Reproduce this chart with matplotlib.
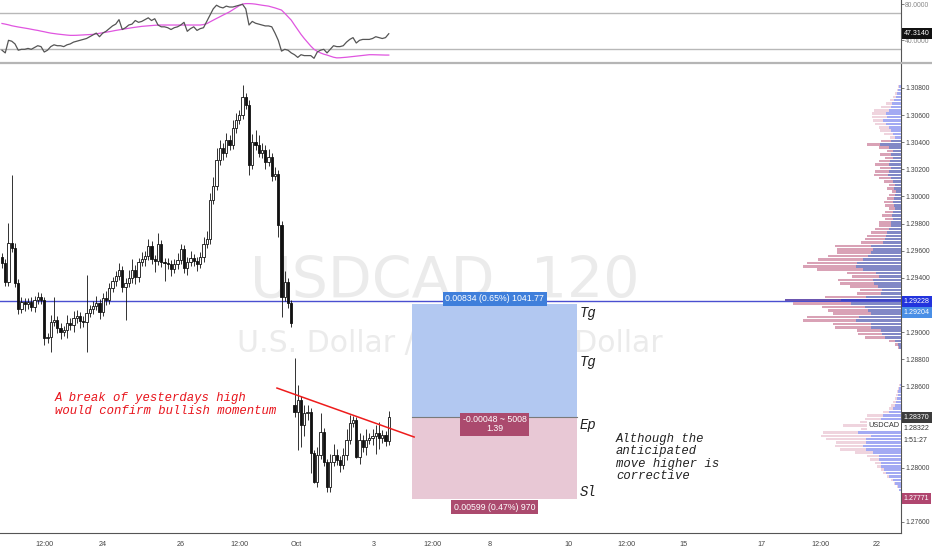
import numpy as np
import matplotlib.pyplot as plt
from matplotlib.lines import Line2D

plt.rcParams['font.family'] = ['Liberation Sans', 'DejaVu Sans']

# USDCAD 2h candles (close prices)
closes = [1.29509, 1.29369, 1.29657, 1.29620, 1.29362, 1.29170, 1.29222, 1.29207, 1.29222, 1.29185,
          1.29237, 1.29259, 1.29237, 1.28956, 1.28964, 1.29074, 1.29089, 1.29030, 1.29001, 1.29015,
          1.29067, 1.29052, 1.29104, 1.29119, 1.29082, 1.29074, 1.29141, 1.29170, 1.29192, 1.29214,
          1.29148, 1.29251, 1.29237, 1.29325, 1.29377, 1.29414, 1.29458, 1.29332, 1.29362, 1.29399,
          1.29458, 1.29406, 1.29517, 1.29539, 1.29561, 1.29635, 1.29539, 1.29524, 1.29650, 1.29517,
          1.29509, 1.29502, 1.29465, 1.29502, 1.29532, 1.29613, 1.29473, 1.29517, 1.29546, 1.29524,
          1.29502, 1.29554, 1.29650, 1.29686, 1.29974, 1.30077, 1.30269, 1.30358, 1.30321, 1.30417,
          1.30380, 1.30505, 1.30564, 1.30601, 1.30734, 1.30675, 1.30232, 1.30402, 1.30380, 1.30321,
          1.30343, 1.30254, 1.30291, 1.30151, 1.30166, 1.29790, 1.29259, 1.29369, 1.29214, 1.29067,
          1.28411, 1.28499, 1.28315, 1.28403, 1.28411, 1.28108, 1.27894, 1.28094, 1.28263, 1.28042,
          1.27858, 1.28042, 1.28094, 1.28057, 1.28020, 1.28094, 1.28204, 1.28330, 1.28352, 1.28079,
          1.28204, 1.28153, 1.28204, 1.28219, 1.28234, 1.28256, 1.28219, 1.28241, 1.28197, 1.28370]
first_open = 1.29554
gap_opens = {90: 1.28462}   # weekend gap

# wick sizes in pips
upper_wick = [3, 3, 15, 50, 4, 3, 4, 3, 3, 4, 3, 4, 3, 2, 3, 5, 17, 3, 4, 3,
              6, 4, 5, 4, 3, 4, 28, 3, 4, 5, 3, 4, 5, 4, 3, 4, 5, 3, 4, 6,
              8, 4, 3, 5, 4, 5, 4, 3, 8, 3, 3, 4, 3, 4, 5, 4, 3, 4, 5, 3,
              3, 4, 5, 6, 5, 7, 9, 6, 4, 5, 4, 6, 5, 4, 9, 3, 4, 6, 9, 7,
              5, 4, 6, 3, 5, 3, 3, 8, 3, 2, 35, 11, 3, 6, 5, 3, 2, 6, 14, 3,
              2, 6, 8, 4, 3, 5, 8, 6, 3, 2, 5, 4, 8, 4, 5, 6, 8, 4, 3, 5]
lower_wick = [4, 3, 3, 3, 3, 4, 3, 5, 4, 3, 4, 3, 3, 5, 4, 11, 3, 4, 5, 3,
              6, 4, 5, 4, 5, 4, 22, 3, 4, 3, 5, 3, 4, 3, 3, 4, 3, 4, 24, 3,
              4, 5, 4, 3, 5, 3, 4, 8, 3, 4, 13, 4, 5, 3, 4, 3, 4, 5, 3, 4,
              5, 3, 4, 3, 4, 3, 3, 4, 5, 3, 4, 3, 4, 3, 3, 3, 7, 3, 4, 3,
              4, 5, 3, 4, 3, 9, 15, 3, 4, 3, 4, 28, 16, 8, 5, 15, 1, 4, 3, 3,
              4, 4, 3, 4, 5, 3, 4, 3, 3, 1, 5, 4, 6, 3, 5, 13, 8, 4, 4, 3]

rsi = [29, 26, 40, 39, 36, 29, 30, 30, 31, 30, 32, 34, 33, 27, 29, 33, 35, 34, 34, 33,
       35, 36, 38, 39, 40, 41, 42, 44, 46, 48, 44, 48, 50, 53, 56, 58, 63, 52, 54, 57,
       58, 62, 60, 61, 63, 65, 62, 64, 57, 55, 55, 54, 52, 54, 55, 57, 60, 50, 53, 55,
       51, 53, 54, 61, 68, 75, 79, 77, 76, 78, 77, 77, 78, 79, 80, 75, 57, 61, 59, 58,
       57, 56, 56, 55, 48, 40, 28, 30, 29, 26, 24, 21, 24, 23, 23, 23, 20, 27, 29, 30,
       26, 30, 34, 33, 33, 34, 38, 41, 43, 37, 40, 41, 41, 41, 42, 44, 43, 42, 43, 47.314]
rsi_ma = [58.7, 58.0, 57.2, 56.2, 55.5, 54.8, 54.2, 53.6, 53.0, 52.3, 51.6, 51.0, 50.2, 49.5, 48.7,
          48.0, 47.5, 47.0, 46.6, 46.2, 45.8, 45.5, 45.5, 45.6, 45.8, 46.0, 46.2, 46.4, 46.6, 47.2,
          47.8, 48.4, 49.0, 49.6, 50.3, 51.0, 51.6, 52.2, 52.8, 53.4, 54.0, 54.5, 55.0, 55.5, 55.8,
          56.1, 56.4, 56.7, 56.9, 57.0, 57.0, 57.0, 57.0, 57.0, 57.0, 57.0, 57.0, 57.0, 57.0, 57.0,
          57.0, 57.0, 57.5, 58.5, 60.5, 62.4, 64.3, 66.1, 68.0, 69.8, 71.6, 73.9, 76.2, 78.5, 80.3,
          80.8, 80.8, 80.6, 80.2, 79.6, 79.0, 78.5, 78.0, 77.0, 76.0, 74.8, 73.6, 70.0, 66.2, 62.4,
          57.0, 51.8, 46.6, 42.0, 37.8, 33.6, 30.0, 27.8, 26.0, 24.6, 23.6, 22.4, 21.2, 20.5, 20.6,
          20.9, 21.2, 21.6, 22.0, 22.4, 22.8, 23.2, 23.6, 24.0, 24.0, 23.9, 23.8, 23.7, 23.6, 23.6]

# visible range volume profile (rows of 0.00025 from the top)
vp_top = 1.30810
vp_step = 0.00025
vp_total = [3, 4, 6, 8, 11, 15, 20, 27, 29, 29, 28, 26, 22, 21, 17, 11, 20, 34, 22, 14,
            21, 16, 22, 26, 21, 26, 27, 22, 17, 12, 14, 9, 12, 14, 17, 16, 12, 16, 19, 16,
            22, 22, 26, 30, 34, 36, 40, 66, 64, 64, 73, 83, 94, 98, 84, 54, 49, 63, 61, 51,
            41, 44, 76, 116, 108, 79, 73, 68, 94, 98, 68, 66, 44, 43, 36, 12, 6, 3, 0, 0,
            0, 0, 0, 0, 0, 0, 0, 0, 2, 3, 4, 5, 6, 8, 10, 12, 18, 34, 36, 41,
            58, 40, 78, 80, 75, 65, 66, 61, 46, 34, 31, 26, 24, 20, 18, 14, 10, 7, 4, 2]
vp_up = [2, 3, 4, 5, 7, 9, 10, 12, 15, 14, 18, 15, 12, 10, 8, 6, 10, 21, 12, 8,
         10, 8, 11, 12, 10, 12, 13, 10, 8, 6, 7, 5, 6, 7, 8, 7, 6, 8, 9, 8,
         10, 10, 12, 14, 15, 16, 18, 30, 28, 30, 33, 38, 44, 45, 38, 25, 22, 28, 27, 23,
         19, 20, 35, 60, 50, 36, 33, 30, 42, 45, 30, 30, 20, 19, 16, 6, 3, 2, 0, 0,
         0, 0, 0, 0, 0, 0, 0, 0, 1, 2, 3, 3, 4, 5, 6, 8, 12, 18, 20, 22,
         18, 30, 43, 30, 35, 35, 38, 35, 28, 22, 22, 20, 20, 17, 15, 12, 8, 6, 3, 2]
va_rows = (16, 77)
poc_row = 63

level_line = 1.29228
entry = 1.28370
target = 1.29204
stop = 1.27771
bid = 1.28322
trend_x = [84.6, 126.8]
trend_y = [1.28587, 1.28226]
box_x = [126.2, 177.0]

tick_pos = [13, 31, 55, 73, 90.5, 114.5, 132.5, 150.2, 174.2, 192, 209.8, 233.8, 251.7, 269.2]
tick_lbl = ['12:00', '24', '26', '12:00', 'Oct', '3', '12:00', '8', '10', '12:00', '15', '17', '12:00', '22']
price_ticks = [1.276, 1.280, 1.286, 1.288, 1.290, 1.294, 1.296, 1.298, 1.300, 1.302, 1.304, 1.306, 1.308]

n = len(closes)
idx = np.arange(n)
c = np.array(closes)
o = np.concatenate([[first_open], c[:-1]])
for k, v in gap_opens.items():
    o[k] = v
hi = np.maximum(o, c) + np.array(upper_wick) * 1e-4
lo = np.minimum(o, c) - np.array(lower_wick) * 1e-4

W, H = 932, 550
fig = plt.figure(figsize=(W / 100, H / 100), dpi=100)
ax = fig.add_axes([0, 17 / H, 901 / W, 469 / H])
ax_r = fig.add_axes([0, 1 - 62 / H, 901 / W, 62 / H])
xlim = (-0.615, 276.6)

# ---- main price pane
ax.set_xlim(xlim)
ax.set_ylim(1.27518, 1.30977)
ax.text(136.3, 1.29369, 'USDCAD, 120', fontsize=41, color='#ebebeb', ha='center', va='center',
        family='DejaVu Sans', zorder=0)
ax.text(137.8, 1.28919, 'U.S. Dollar / Canadian Dollar', fontsize=21.5, color='#ebebeb',
        ha='center', va='center', family='DejaVu Sans', zorder=0)

ax.axhline(level_line, color='#4a4fd0', lw=1, zorder=2)

# position tool
ax.fill_between(box_x, entry, target, color='#b2c8f1', lw=0, zorder=1)
ax.fill_between(box_x, stop, entry, color='#e8c8d5', lw=0, zorder=1)
ax.plot(box_x, [entry, entry], color='#7a7a7a', lw=0.8, zorder=2)
mid = (box_x[0] + box_x[1]) / 2
lbl = dict(color='white', fontsize=6.3, ha='center', zorder=6)
ax.text(mid, target + 0.0004, '0.00834 (0.65%) 1041.77', va='center',
        bbox=dict(boxstyle='square,pad=0.3', fc='#3f7fdb', ec='none'), **lbl)
ax.text(mid, entry - 0.0005, '-0.00048 ~ 5008\n1.39', va='center', linespacing=0.95,
        bbox=dict(boxstyle='square,pad=0.3', fc='#ab4a6e', ec='none'), **lbl)
ax.text(mid, stop - 0.00062, '0.00599 (0.47%) 970', va='center',
        bbox=dict(boxstyle='square,pad=0.3', fc='#ab4a6e', ec='none'), **lbl)

mono = dict(family=['Liberation Mono', 'DejaVu Sans Mono'], style='italic')
for yy, t in [(1.29141, 'Tg'), (1.28779, 'Tg'), (1.28315, 'Ep'), (1.27821, 'Sl')]:
    ax.text(177.8, yy, t, fontsize=10, color='#222222', va='center', **mono)
ax.text(16.3, 1.28466, 'A break of yesterdays high\nwould confirm bullish momentum', fontsize=8.8,
        color='#e8141c', va='center', linespacing=1.05, **mono)
ax.text(188.9, 1.28075, 'Although the\nanticipated\nmove higher is\ncorrective', fontsize=8.8,
        color='#222222', va='center', linespacing=1.05, **mono)

# candles
up = c >= o
ax.vlines(idx, lo, hi, color='#111111', lw=0.6, zorder=3)
body_bot = np.minimum(o, c)
body_h = np.maximum(np.abs(c - o), 0.00003)
ax.bar(idx[up], body_h[up], bottom=body_bot[up], width=0.7, color='white', edgecolor='#111111',
       lw=0.6, zorder=4)
ax.bar(idx[~up], body_h[~up], bottom=body_bot[~up], width=0.7, color='#111111',
       edgecolor='#111111', lw=0.6, zorder=4)

ax.plot(trend_x, trend_y, color='#ee1c1c', lw=1.1, zorder=5)

for s in ['top', 'left']:
    ax.spines[s].set_visible(False)
ax.spines['right'].set_color('#555555')
ax.spines['bottom'].set_color('#555555')
ax.spines['right'].set_linewidth(0.8)
ax.spines['bottom'].set_linewidth(0.8)
ax.yaxis.tick_right()
ax.set_yticks(price_ticks)
ax.set_yticklabels(['%.5f' % p for p in price_ticks])
ax.tick_params(axis='y', length=2, width=0.6, color='#666666', labelsize=4.9, labelcolor='#444444', pad=1)
ax.set_xticks(tick_pos)
ax.set_xticklabels(tick_lbl)
ax.tick_params(axis='x', length=0, labelsize=5.2, labelcolor='#444444', pad=6)

ytr = ax.get_yaxis_transform()
tag = dict(transform=ytr, fontsize=5.1, ha='left', va='center', clip_on=False, zorder=10)
tagbox = 'square,pad=0.3'
ax.text(1.003, level_line, '1.29228', color='white',
        bbox=dict(boxstyle=tagbox, fc='#2233dd', ec='none'), **tag)
ax.text(1.003, target - 0.00057, '1.29204', color='white',
        bbox=dict(boxstyle=tagbox, fc='#4a8fe6', ec='none'), **tag)
ax.text(1.003, bid - 0.0003, '1.28322', color='#333333',
        bbox=dict(boxstyle='square,pad=0.2', fc='white', ec='none'), **tag)
ax.text(1.003, bid - 0.00125, '1:51:27', color='#333333',
        bbox=dict(boxstyle='square,pad=0.2', fc='white', ec='none'), **tag)
ax.text(1.003, entry, '1.28370', color='white',
        bbox=dict(boxstyle=tagbox, fc='#3c3c3c', ec='none'), **tag)
ax.text(1.003, stop, '1.27771', color='white',
        bbox=dict(boxstyle=tagbox, fc='#b0466f', ec='none'), **tag)

# volume profile overlay
ax_vp = fig.add_axes(ax.get_position().bounds, sharey=ax)
ax_vp.set_xlim(901, 0)
ax_vp.axis('off')
ax_vp.patch.set_visible(False)
levels = vp_top - vp_step * np.arange(len(vp_total))
tot = np.array(vp_total)
upv = np.array(vp_up)
down = tot - upv
in_va = (np.arange(len(tot)) >= va_rows[0]) & (np.arange(len(tot)) <= va_rows[1])
up_col = np.where(in_va, '#8288c6', '#a3aaf3')
dn_col = np.where(in_va, '#d9a2b6', '#efd4de')
up_col[poc_row] = '#3e45c4'
dn_col[poc_row] = '#6c56b0'
hgt = vp_step * 0.75
ax_vp.barh(levels, upv, left=0, height=hgt, color=up_col, lw=0)
ax_vp.barh(levels, down, left=upv, height=hgt, color=dn_col, lw=0)
ax_vp.text(0.998, bid - 0.0001, 'USDCAD', transform=ax_vp.get_yaxis_transform(), fontsize=5.3,
           ha='right', va='center', color='#333333', zorder=10,
           bbox=dict(boxstyle='square,pad=0.2', fc='white', ec='none'))

# ---- RSI pane
ax_r.set_xlim(xlim)
ax_r.set_ylim(15.9, 84.8)
ax_r.axhline(70, color='#b8b8b8', lw=1)
ax_r.axhline(30, color='#b8b8b8', lw=1)
ax_r.plot(idx, rsi_ma, color='#e055e0', lw=0.9)
ax_r.plot(idx, rsi, color='#555555', lw=0.9)
for s in ['top', 'left', 'bottom']:
    ax_r.spines[s].set_visible(False)
ax_r.spines['right'].set_color('#555555')
ax_r.spines['right'].set_linewidth(0.8)
ax_r.set_xticks([])
ax_r.yaxis.tick_right()
ax_r.set_yticks([40, 80])
ax_r.set_yticklabels(['40.0000', '80.0000'])
ax_r.tick_params(axis='y', length=2, width=0.6, color='#666666', labelsize=4.9, labelcolor='#888888', pad=1)
ax_r.text(1.003, rsi[-1], '%.4f' % rsi[-1], transform=ax_r.get_yaxis_transform(), fontsize=5.1,
          color='white', ha='left', va='center', clip_on=False, zorder=10,
          bbox=dict(boxstyle='square,pad=0.3', fc='#111111', ec='none'))

fig.add_artist(Line2D([0, 1], [1 - 62.5 / H] * 2, color='#b5b5b5', lw=1.6))

fig.savefig('out.png', dpi=100)
